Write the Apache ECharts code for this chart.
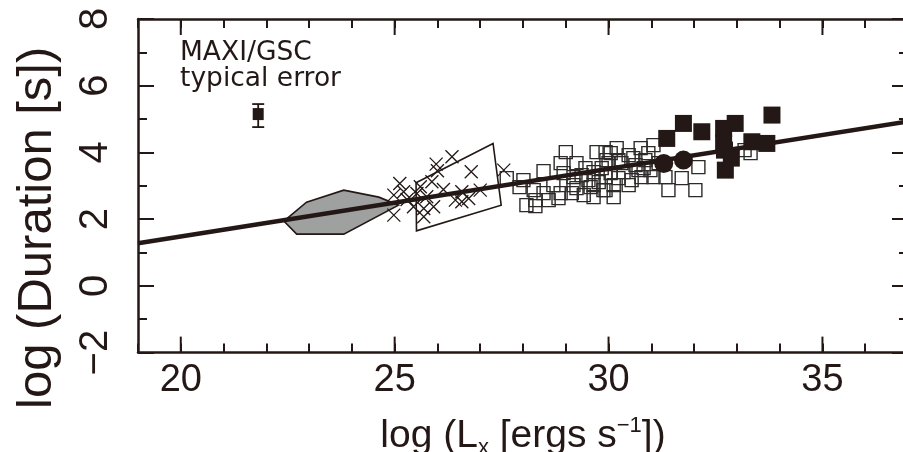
<!DOCTYPE html>
<html>
<head>
<meta charset="utf-8">
<script src="https://cdn.jsdelivr.net/npm/echarts@6/dist/echarts.min.js"></script>
<style>
  html, body { margin: 0; padding: 0; background: #fff; }
  #chart { width: 903px; height: 452px; }
</style>
</head>
<body>
<div id="chart"></div>
<script>
const ink = "#231815";

// x tick labels (log Lx); long ticks sit at the same values
const xLabelValues = [20, 25, 30, 35];

// regression line
const fitLine = [[19, 1.28], [37, 4.93]];

// shaded region (grey polygon)
const greyRegion = [
  [22.41, 1.94], [22.94, 2.51], [23.81, 2.87], [24.63, 2.66],
  [25.09, 2.42], [23.81, 1.55], [22.71, 1.55]
];

// open outlined region
const openRegion = [[25.50, 3.09], [27.30, 4.27], [27.49, 2.42], [25.51, 1.65]];

// crosses
const crosses = [
  [26.34, 3.87], [25.97, 3.65], [26.00, 3.45], [26.79, 3.42], [27.55, 3.47],
  [25.12, 3.07], [25.60, 2.97], [25.87, 3.12], [26.14, 2.89], [26.57, 2.82],
  [27.00, 2.87], [24.98, 2.72], [25.21, 2.82], [25.52, 2.77], [25.75, 2.67],
  [26.42, 2.57], [26.57, 2.52], [25.44, 2.37], [25.68, 2.32], [25.91, 2.37],
  [24.98, 2.12], [25.68, 2.07], [25.29, 2.59], [26.73, 2.62]
];

// open squares
const openSquares = [
  [27.62, 3.23], [27.92, 2.96], [28.01, 3.17], [28.25, 2.87], [28.29, 2.57],
  [28.29, 2.39], [28.48, 3.44], [28.48, 2.78], [28.83, 2.63], [28.88, 2.78],
  [28.88, 3.68], [28.95, 3.38], [29.00, 4.01], [29.14, 2.78], [29.18, 3.26],
  [29.25, 3.68], [29.25, 2.93], [29.37, 3.32], [29.58, 2.96], [29.65, 2.66],
  [29.72, 4.01], [29.77, 3.11], [29.88, 2.87], [29.95, 3.77], [30.05, 3.38],
  [30.05, 3.98], [29.93, 4.01], [30.19, 4.13], [30.47, 3.92], [30.75, 4.13],
  [30.93, 3.98], [31.05, 4.22], [30.00, 3.68], [30.30, 3.68], [30.63, 3.62],
  [30.86, 3.77], [31.17, 3.68], [29.93, 3.26], [30.23, 3.23], [30.54, 3.17],
  [30.77, 3.26], [29.93, 2.87], [30.12, 2.66], [30.47, 3.02], [31.40, 2.87],
  [31.71, 3.23], [32.03, 2.87], [32.10, 3.56], [31.05, 3.26], [31.33, 3.26],
  [33.32, 3.98], [33.18, 4.07], [30.98, 3.47], [28.08, 2.42], [28.60, 2.57],
  [29.42, 2.72], [29.53, 3.17], [29.46, 3.53], [29.65, 3.41], [29.84, 3.53],
  [30.35, 3.41], [30.70, 3.47], [30.12, 3.02], [29.65, 3.02], [29.18, 3.02],
  [28.71, 3.02], [30.23, 3.77], [30.58, 3.83], [30.82, 3.53]
];

// filled squares
const filledSquares = [
  [31.75, 4.87], [31.36, 4.42], [32.18, 4.62], [32.69, 4.72], [32.96, 4.87],
  [33.82, 5.12], [33.35, 4.32], [33.70, 4.27], [32.71, 4.07], [32.87, 3.83],
  [32.73, 3.47], [32.69, 4.28]
];

// filled circles
const filledCircles = [[31.29, 3.67], [31.75, 3.77]];

// typical error bar: x, y, low, high
const typicalError = [[21.81, 5.15, 4.76, 5.45]];

const chart = echarts.init(document.getElementById("chart"));

function polygonItem(points, fill) {
  return function (params, api) {
    if (params.dataIndex !== 0) return null;
    return {
      type: "polygon",
      shape: { points: points.map(p => api.coord(p)) },
      style: { fill: fill, stroke: ink, lineWidth: 1.6 }
    };
  };
}

const tickStyle = { color: ink, width: 2 };
const lineOn = { show: true, onZero: false, lineStyle: { color: ink, width: 2.5 } };

function xAxisPart(position) {
  return {
    type: "value",
    position: position,
    min: 19,
    max: 37,
    interval: 1,
    splitLine: { show: false },
    axisLine: lineOn,
    axisTick: { inside: true, length: 9, lineStyle: tickStyle },
    axisLabel: { show: false }
  };
}

const bottomAxis = xAxisPart("bottom");
bottomAxis.axisLabel = {
  customValues: xLabelValues,
  margin: 9,
  color: ink,
  fontFamily: "Liberation Sans",
  fontSize: 38
};
bottomAxis.name = "log (L{sub|x} [ergs s{sup|\u22121}])";
bottomAxis.nameLocation = "middle";
bottomAxis.nameGap = 62;
bottomAxis.nameTextStyle = {
  color: ink,
  fontFamily: "Liberation Sans",
  fontSize: 39,
  rich: {
    sub: { fontFamily: "Liberation Sans", fontSize: 22, color: ink, verticalAlign: "bottom", padding: [22, 0, 0, 0] },
    sup: { fontFamily: "Liberation Sans", fontSize: 22, color: ink, verticalAlign: "top", padding: [0, 0, 14, 0] }
  }
};

function yAxisPart(position) {
  return {
    type: "value",
    position: position,
    min: -2,
    max: 8,
    interval: 2,
    splitLine: { show: false },
    axisLine: lineOn,
    axisTick: { inside: true, length: 16, lineStyle: tickStyle },
    minorTick: { show: true, splitNumber: 2, length: 9, lineStyle: tickStyle },
    axisLabel: { show: false }
  };
}

const leftAxis = yAxisPart("left");
leftAxis.axisLabel = {
  rotate: 90,
  margin: 22,
  color: ink,
  fontFamily: "Liberation Sans",
  fontSize: 40,
  formatter: v => (v < 0 ? "\u2212" + Math.abs(v) : String(v))
};
leftAxis.name = "log (Duration [s])";
leftAxis.nameLocation = "middle";
leftAxis.nameGap = 76;
leftAxis.nameTextStyle = {
  color: ink,
  fontFamily: "Liberation Sans",
  fontSize: 49,
  padding: [0, 84, 0, 0]
};

const option = {
  animation: false,
  grid: { left: 138, top: 19, width: 770, height: 333.6, containLabel: false, outerBoundsMode: "none" },
  xAxis: [bottomAxis, xAxisPart("top")],
  yAxis: [leftAxis, yAxisPart("right")],
  graphic: [
    {
      type: "text",
      left: 180,
      top: 40,
      style: {
        text: "MAXI/GSC\ntypical error",
        align: "center",
        fill: ink,
        font: "26.5px 'DejaVu Sans'",
        lineHeight: 26
      }
    }
  ],
  series: [
    {
      // long ticks on the bottom frame at the labelled values
      type: "scatter",
      silent: true,
      clip: false,
      data: xLabelValues.map(v => [v, -2]),
      symbol: "rect",
      symbolSize: [2, 16],
      symbolOffset: [0, -8],
      itemStyle: { color: ink, opacity: 1 },
      z: 6
    },
    {
      // long ticks on the top frame
      type: "scatter",
      silent: true,
      clip: false,
      data: xLabelValues.map(v => [v, 8]),
      symbol: "rect",
      symbolSize: [2, 16],
      symbolOffset: [0, 8],
      itemStyle: { color: ink, opacity: 1 },
      z: 6
    },
    {
      type: "custom",
      data: greyRegion,
      renderItem: polygonItem(greyRegion, "#9fa0a0"),
      z: 1
    },
    {
      type: "custom",
      data: openRegion,
      renderItem: polygonItem(openRegion, "rgba(255,255,255,0)"),
      z: 1
    },
    {
      type: "scatter",
      data: crosses,
      symbol: "path://M0,0L10,10M10,0L0,10",
      symbolSize: 13,
      itemStyle: { color: "rgba(0,0,0,0)", borderColor: ink, borderWidth: 1.3, opacity: 1 },
      z: 2
    },
    {
      type: "scatter",
      data: openSquares,
      symbol: "rect",
      symbolSize: 13,
      itemStyle: { color: "rgba(0,0,0,0)", borderColor: "#2e2a2a", borderWidth: 1.4, opacity: 1 },
      z: 2
    },
    {
      type: "line",
      data: fitLine,
      symbol: "none",
      lineStyle: { color: ink, width: 4.5 },
      z: 3
    },
    {
      type: "scatter",
      data: filledSquares,
      symbol: "rect",
      symbolSize: 17,
      itemStyle: { color: ink, opacity: 1 },
      z: 4
    },
    {
      type: "scatter",
      data: filledCircles,
      symbol: "circle",
      symbolSize: 19,
      itemStyle: { color: ink, opacity: 1 },
      z: 4
    },
    {
      type: "custom",
      data: typicalError,
      renderItem: function (params, api) {
        const top = api.coord([api.value(0), api.value(3)]);
        const bot = api.coord([api.value(0), api.value(2)]);
        const st = { stroke: ink, lineWidth: 1.8 };
        return {
          type: "group",
          children: [
            { type: "line", shape: { x1: top[0], y1: top[1], x2: bot[0], y2: bot[1] }, style: st },
            { type: "line", shape: { x1: top[0] - 6, y1: top[1], x2: top[0] + 6, y2: top[1] }, style: st },
            { type: "line", shape: { x1: bot[0] - 6, y1: bot[1], x2: bot[0] + 6, y2: bot[1] }, style: st }
          ]
        };
      },
      z: 4
    },
    {
      type: "scatter",
      data: typicalError.map(d => [d[0], d[1]]),
      symbol: "rect",
      symbolSize: [11, 12],
      itemStyle: { color: ink, opacity: 1 },
      z: 5
    }
  ]
};

chart.setOption(option);
</script>
</body>
</html>
